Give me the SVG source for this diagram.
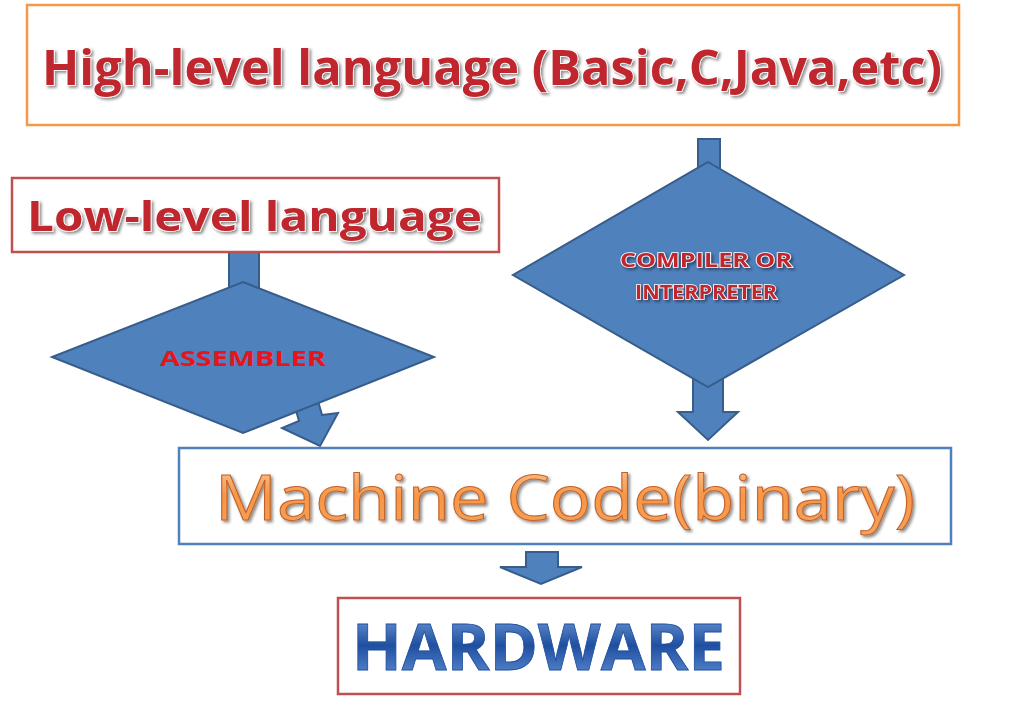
<svg xmlns="http://www.w3.org/2000/svg" width="1012" height="725" viewBox="0 0 1012 725">
<defs>
<linearGradient id="og" x1="0" y1="0" x2="0" y2="1"><stop offset="0" stop-color="#fbd5b0"/><stop offset="0.5" stop-color="#f79646"/><stop offset="1" stop-color="#f4a460"/></linearGradient>
<linearGradient id="bg" x1="0" y1="0" x2="0" y2="1"><stop offset="0" stop-color="#8cb4e8"/><stop offset="0.5" stop-color="#1f4fa0"/><stop offset="1" stop-color="#6f9ee0"/></linearGradient>
<filter id="sh" x="-5%" y="-20%" width="110%" height="140%"><feDropShadow dx="2" dy="2" stdDeviation="1.5" flood-color="#000" flood-opacity="0.45"/></filter>
</defs>
<style>
.box{fill:#fff;stroke-width:2.5}
.shape{fill:#4f81bd;stroke:#385d8a;stroke-width:2}
.t{font-family:"Open Sans","Liberation Sans",sans-serif;font-weight:bold}
.red{fill:#c0282d;stroke:#fff;stroke-width:1.5;paint-order:stroke;filter:url(#sh)}
</style>
<rect width="1012" height="725" fill="#fff"/>
<g id="connectors">
<rect class="shape" x="698" y="139" width="22" height="32"/>
<rect class="shape" x="229" y="251" width="30" height="40"/>
<polygon class="shape" points="293,400 316,394 322,415 338,413 320,446 282,428 299,421"/>
<polygon class="shape" points="693,378 723,378 723,412 738,412 708,440 678,412 693,412"/>
<polygon class="shape" points="526,552 558,552 558,567 582,567 541,584 500,567 526,567"/>
</g>
<g id="high"><rect class="box" x="27" y="5" width="932" height="120" stroke="#f79646"/>
<text class="t red" x="42" y="85" font-size="48" textLength="900" lengthAdjust="spacingAndGlyphs">High-level language (Basic,C,Java,etc)</text></g>
<g id="low"><rect class="box" x="12" y="178" width="487" height="74" stroke="#c0504d"/>
<text class="t red" x="27" y="231" font-size="42" textLength="455" lengthAdjust="spacingAndGlyphs">Low-level language</text></g>
<g id="assembler"><polygon class="shape" points="243,282 434,357 243,433 52,357"/>
<text class="t" x="243" y="366" font-size="22" text-anchor="middle" fill="#e8141c" textLength="166" lengthAdjust="spacingAndGlyphs">ASSEMBLER</text></g>
<g id="compiler"><polygon class="shape" points="708,162 904,275 708,387 513,275"/>
<text class="t red" font-size="20" text-anchor="middle"><tspan x="706" y="267" textLength="172" lengthAdjust="spacingAndGlyphs">COMPILER OR</tspan><tspan x="706" y="299" textLength="142" lengthAdjust="spacingAndGlyphs">INTERPRETER</tspan></text></g>
<g id="machine"><rect class="box" x="179" y="448" width="772" height="96" stroke="#4f81bd"/>
<text class="t" x="215" y="520" font-size="62" font-weight="normal" fill="url(#og)" stroke="#c0622a" stroke-width="1" textLength="700" lengthAdjust="spacingAndGlyphs" style="font-weight:normal;filter:url(#sh)">Machine Code(binary)</text></g>
<g id="hardware"><rect class="box" x="338" y="598" width="402" height="96" stroke="#c0504d"/>
<text class="t" x="352" y="670" font-size="64" fill="url(#bg)" stroke="#1f4fa0" stroke-width="0.8" textLength="373" lengthAdjust="spacingAndGlyphs">HARDWARE</text></g>
</svg>
